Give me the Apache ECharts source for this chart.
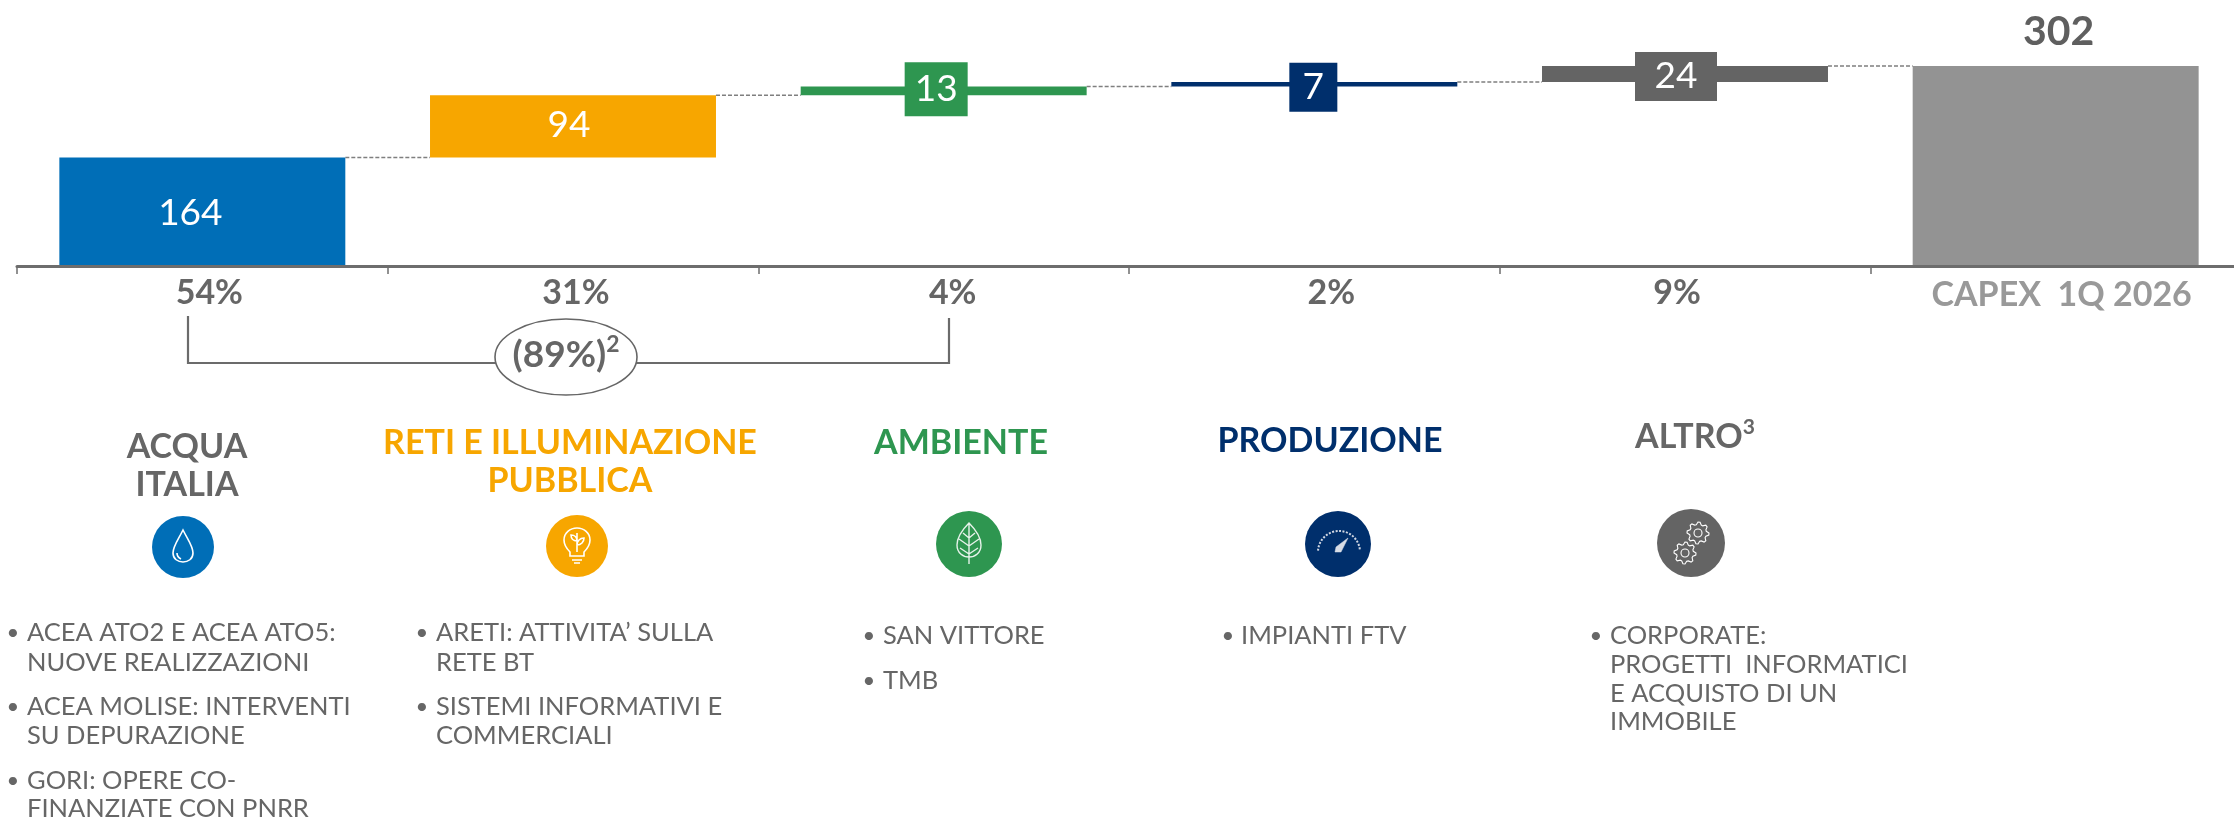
<!DOCTYPE html>
<html>
<head>
<meta charset="utf-8">
<style>html,body{margin:0;padding:0;background:#fff}#c{width:2234px;height:818px}</style>
<script src="https://cdn.jsdelivr.net/npm/echarts@6/dist/echarts.min.js"></script>
</head>
<body>
<div id="c"></div>
<script>
// ---- data ----
const shareLabels = ['54%', '31%', '4%', '2%', '9%', 'CAPEX  1Q 2026'];
const capexValues = [164, 94, 13, 7, 24, 302];
const barColors = ['#006EB7', '#F7A600', '#2E9650', '#002F6C', '#646464', '#939393'];
const runningTotals = [164, 258, 271, 278, 302];
const floatBase = [0, 164, 258, 271, 278, 0];
const bracketParts = ['(89%)', '2'];

// ---- layout ----
const FONT = 'Lato, "Noto Sans", sans-serif';
const GREY = '#666666';
const tickShift = [7, 3, 9, 17, -8, 6];
const barLabelLayouts = [
  { offset: [-12, 1], fontSize: 37 },
  { offset: [-4, -1], fontSize: 37 },
  { offset: [-7.5, -1.5], fontSize: 37, box: [63, 54] },
  { offset: [-1, 3], fontSize: 37, box: [48, 49] },
  { offset: [-9, 2.5], fontSize: 37, box: [82, 49] }
];

const headings = [
  { text: 'ACQUA', x: 187, y: 447, color: GREY },
  { text: 'ITALIA', x: 187, y: 485, color: GREY },
  { text: 'RETI E ILLUMINAZIONE', x: 570, y: 443, color: '#F7A600' },
  { text: 'PUBBLICA', x: 570, y: 481, color: '#F7A600' },
  { text: 'AMBIENTE', x: 961, y: 443, color: '#2E9650' },
  { text: 'PRODUZIONE', x: 1330, y: 441, color: '#002F6C' },
  { text: 'ALTRO', sup: '3', x: 1695, y: 437, color: GREY }
];

const detailColumns = [
  { bx: 13, tx: 27, lines: [
    ['ACEA ATO2 E ACEA ATO5:', 633, 1], ['NUOVE REALIZZAZIONI', 663, 0],
    ['ACEA MOLISE: INTERVENTI', 707, 1], ['SU DEPURAZIONE', 736, 0],
    ['GORI: OPERE CO-', 781, 1], ['FINANZIATE CON PNRR', 809, 0]] },
  { bx: 422, tx: 436, lines: [
    ['ARETI: ATTIVITA’ SULLA', 633, 1], ['RETE BT', 663, 0],
    ['SISTEMI INFORMATIVI E', 707, 1], ['COMMERCIALI', 736, 0]] },
  { bx: 869, tx: 883, lines: [['SAN VITTORE', 636, 1], ['TMB', 681, 1]] },
  { bx: 1228, tx: 1241, lines: [['IMPIANTI FTV', 636, 1]] },
  { bx: 1596, tx: 1610, lines: [
    ['CORPORATE:', 636, 1], ['PROGETTI  INFORMATICI', 665, 0],
    ['E ACQUISTO DI UN', 694, 0], ['IMMOBILE', 722, 0]] }
];

// ---- chart ----
const rich = {};
shareLabels.forEach((s, i) => {
  const d = tickShift[i], last = i === shareLabels.length - 1;
  rich['p' + i] = {
    fontFamily: FONT, fontWeight: 'bold', fontSize: 34,
    color: last ? '#999999' : GREY,
    padding: d >= 0 ? [last ? 5 : 0, 0, 0, 2 * d] : [0, -2 * d, 0, 0],
    height: 40, lineHeight: 40
  };
});

function barLabel(i) {
  const l = barLabelLayouts[i];
  if (!l) {
    return { show: true, position: 'top', distance: 14, offset: [3, 0], color: '#5f5f5f',
      fontFamily: FONT, fontWeight: 'bold', fontSize: 41 };
  }
  const o = { show: true, position: 'inside', offset: l.offset, color: '#fff',
    fontFamily: FONT, fontSize: l.fontSize };
  if (l.box) {
    Object.assign(o, { backgroundColor: barColors[i], width: l.box[0], height: l.box[1] - 6,
      lineHeight: l.box[1] - 6, padding: [0, 0, 6, 0], align: 'center', verticalAlign: 'middle' });
  }
  return o;
}

const g = [];
function text(t, x, y, size, color, weight, align) {
  g.push({ type: 'text', x, y, z: 10, style: { text: t, fill: color, fontFamily: FONT,
    fontSize: size, fontWeight: weight || 'normal', align: align || 'center', verticalAlign: 'middle' } });
}
function supText(main, sup, x, y, size, color, z) {
  g.push({ type: 'text', x, y, z, style: {
    text: `{a|${main}}{s|${sup}}`, align: 'center', verticalAlign: 'middle',
    rich: {
      a: { fill: color, fontFamily: FONT, fontWeight: 'bold', fontSize: size, lineHeight: size * 1.2 },
      s: { fill: color, fontFamily: FONT, fontWeight: 'bold', fontSize: size * 0.62, lineHeight: size * 1.2, verticalAlign: 'top' }
    } } });
}
const W = '#ffffff';
function disc(cx, cy, r, color) {
  g.push({ type: 'circle', shape: { cx, cy, r }, z: 10, style: { fill: color } });
}
let pathCount = 0;
function path(d, stroke, lw, fill) {
  const name = 'deco' + (pathCount++);
  echarts.graphic.registerShape(name, echarts.graphic.extendPath(d));
  g.push({ type: name, z: 11, shape: {}, style: { fill: fill || 'none', stroke: stroke || W, lineWidth: lw || 1.6 } });
}

// bracket
path('M188 316 L188 363 L949 363 L949 318', '#6b6b6b', 2.2);
g.push({ type: 'ellipse', shape: { cx: 566, cy: 357, rx: 71, ry: 38 }, z: 12,
  style: { fill: '#fff', stroke: '#666', lineWidth: 1.6 } });
supText(bracketParts[0], bracketParts[1], 566, 355, 37, GREY, 13);

// headings
headings.forEach(h => h.sup ? supText(h.text, h.sup, h.x, h.y, 34, h.color, 10) : text(h.text, h.x, h.y, 34, h.color, 'bold'));

// detail lists
detailColumns.forEach(c => c.lines.forEach(l => {
  if (l[2]) text('•', c.bx, l[1], 22, GREY, 'normal');
  text(l[0], c.tx, l[1], 25.5, GREY, 'normal', 'left');
}));

// icons
disc(183, 547, 31, '#006EB7');
path('M183 530 C178 540 173 546 173 553 C173 559 178 562 183 562 C188 562 193 559 193 553 C193 546 188 540 183 530 Z M177 553 C177 556 179 558 181 559');

disc(577, 546, 31, '#F7A600');
path('M570 552 C566 548 564 545 564 540 C564 533 570 528 577 528 C584 528 590 533 590 540 C590 545 588 548 584 552 L584 556 L570 556 Z M572 560 L582 560 M574 563 L580 563 M577 552 L577 533 M577 541 C573 541 571 538 571 535 C575 535 577 538 577 541 M577 545 C581 545 584 542 584 538 C580 538 577 541 577 545');

disc(969, 544, 33, '#2E9650');
path('M969 523 C962 530 957 538 957 545 C957 553 963 557 969 557 C975 557 981 553 981 545 C981 538 976 530 969 523 Z M969 523 L969 564 M969 538 L963 533 M969 538 L975 533 M969 546 L959 539 M969 546 L979 539 M969 554 L960 548 M969 554 L978 548', '#e6f2ea', 1.4);

disc(1338, 544, 33, '#002F6C');
g.push({ type: 'arc', z: 11, shape: { cx: 1339, cy: 552, r: 21, startAngle: Math.PI * 1.02, endAngle: Math.PI * 1.98 },
  style: { fill: 'none', stroke: '#cfd6e2', lineWidth: 2, lineDash: [2, 1.5] } });
path('M1336 547 L1348 538 L1341 552 L1335 552 Z', '#d8dde6', 0.5, '#d8dde6');

disc(1691, 543, 34, '#646464');
function gear(cx, cy) {
  const teeth = 8, ro = 11, ri = 8.5;
  let d = '';
  for (let i = 0; i < teeth * 4; i++) {
    const a = i / (teeth * 4) * Math.PI * 2, r = (i % 4 < 2) ? ro : ri;
    d += (i ? 'L' : 'M') + (cx + r * Math.cos(a)).toFixed(1) + ' ' + (cy + r * Math.sin(a)).toFixed(1) + ' ';
  }
  path(d + 'Z', W, 1.1);
  g.push({ type: 'circle', z: 11, shape: { cx, cy, r: 4 }, style: { fill: 'none', stroke: W, lineWidth: 1.1 } });
}
gear(1698, 533);
gear(1685, 553);

const chart = echarts.init(document.getElementById('c'), null, { renderer: 'canvas' });
chart.setOption({
  animation: false,
  backgroundColor: '#fff',
  grid: { left: 17, width: 2224, top: 66, height: 200, containLabel: false, outerBoundsMode: 'none' },
  xAxis: {
    type: 'category', data: shareLabels, z: 5,
    axisLine: { lineStyle: { color: '#6d6d6d', width: 3 } },
    axisTick: { show: true, length: 8, lineStyle: { color: '#6d6d6d', width: 1.5 } },
    axisLabel: { interval: 0, margin: 7, hideOverlap: false, formatter: (v, i) => `{p${i}|${v}}`, rich }
  },
  yAxis: { type: 'value', min: 0, max: 302, show: false, splitLine: { show: false } },
  series: [
    { type: 'bar', stack: 'w', barWidth: '77.15%', silent: true, data: floatBase,
      itemStyle: { color: 'transparent' } },
    { type: 'bar', stack: 'w', barWidth: '77.15%', silent: true,
      data: capexValues.map((v, i) => ({ value: v, itemStyle: { color: barColors[i] }, label: barLabel(i) })) },
    { type: 'custom', silent: true, z: 1, clip: false,
      data: runningTotals.map((v, i) => [i, v]),
      encode: { x: 0, y: 1 },
      renderItem(params, api) {
        const i = api.value(0), p = api.coord([i, api.value(1)]), q = api.coord([i + 1, api.value(1)]);
        const half = api.size([1, 0])[0] * 0.7715 / 2;
        return { type: 'line', shape: { x1: p[0] + half, y1: p[1], x2: q[0] - half, y2: q[1] },
          style: { stroke: '#7f7f7f', lineWidth: 1.5, lineDash: [4, 2] } };
      } }
  ],
  graphic: g
});
</script>
</body>
</html>
